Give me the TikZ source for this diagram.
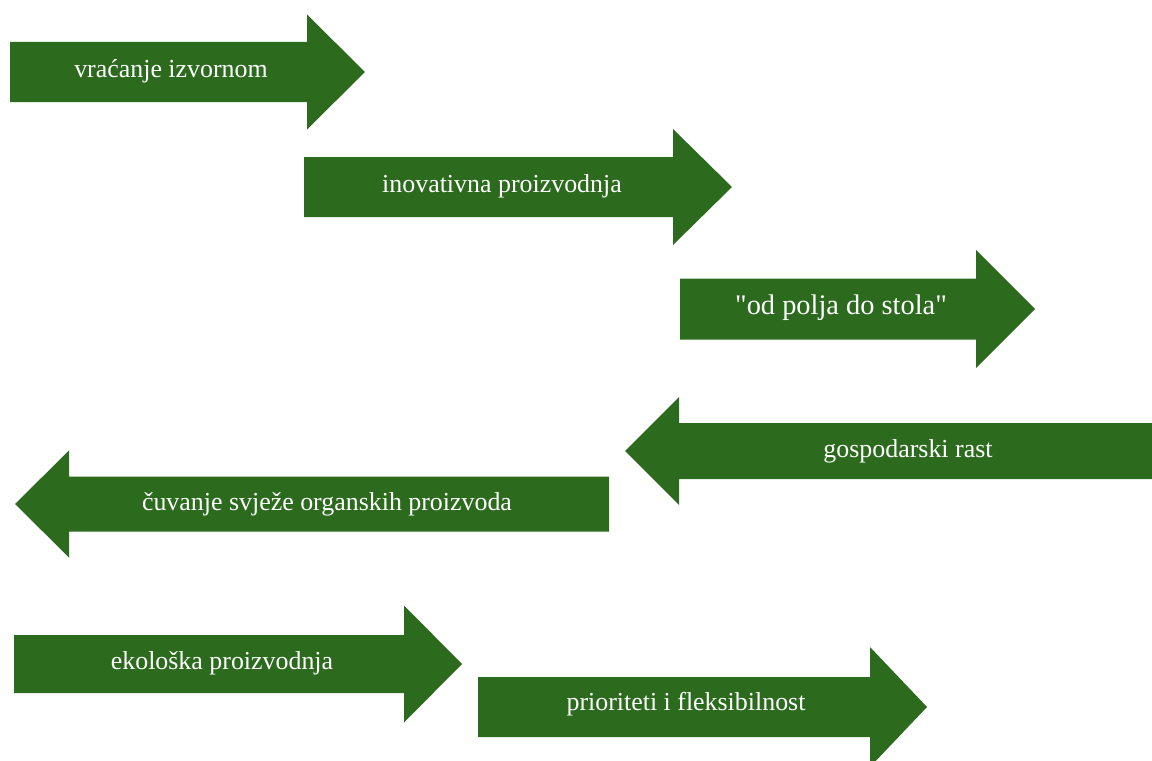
\documentclass[tikz,border=0pt]{standalone}
\usepackage{fontspec}
\setmainfont{Liberation Serif}
\newfontfamily\straightserif{Liberation Serif}[Ligatures=TeXOff]
\definecolor{arrgreen}{RGB}{44,106,30}
\newcommand{\rarr}[6]{% x0, xb, xt, yc, body half, head half
  \fill[arrgreen] (#1,#4-#5) -- (#2,#4-#5) -- (#2,#4-#6) -- (#3,#4) -- (#2,#4+#6) -- (#2,#4+#5) -- (#1,#4+#5) -- cycle;}
\tikzset{lbl/.style={text=white, inner sep=0pt, font=\fontsize{26}{30}\selectfont}}
\begin{document}
\begin{tikzpicture}[x=1bp,y=-1bp]
\useasboundingbox (0,0) rectangle (1152,761);
\begin{scope}
\clip (0,0) rectangle (1152,761);
\rarr{10}{307}{365}{72}{30}{57.5}
\rarr{304}{673}{732}{187}{30}{58}
\rarr{680}{976}{1035}{309}{30.5}{59}
\rarr{1160}{679}{625}{451}{28}{54}
\rarr{609}{69}{15}{504}{27.5}{53.5}
\rarr{14}{404}{462}{664}{29}{58.5}
\rarr{478}{870}{927}{707}{30}{60}
\end{scope}
\node[lbl] (a1) at (171,71) {vraćanje izvornom};
\node[lbl] (a2) at (502,186) {inovativna proizvodnja};
\node[lbl, font=\straightserif\fontsize{28.5}{32}\selectfont] (a3) at (841,308) {"od polja do stola"};
\node[lbl] (a4) at (908,451) {gospodarski rast};
\node[lbl] (a5) at (327,504) {čuvanje svježe organskih proizvoda};
\node[lbl] (a6) at (222,663) {ekološka proizvodnja};
\node[lbl] (a7) at (686,704) {prioriteti i fleksibilnost};
\end{tikzpicture}
\end{document}
